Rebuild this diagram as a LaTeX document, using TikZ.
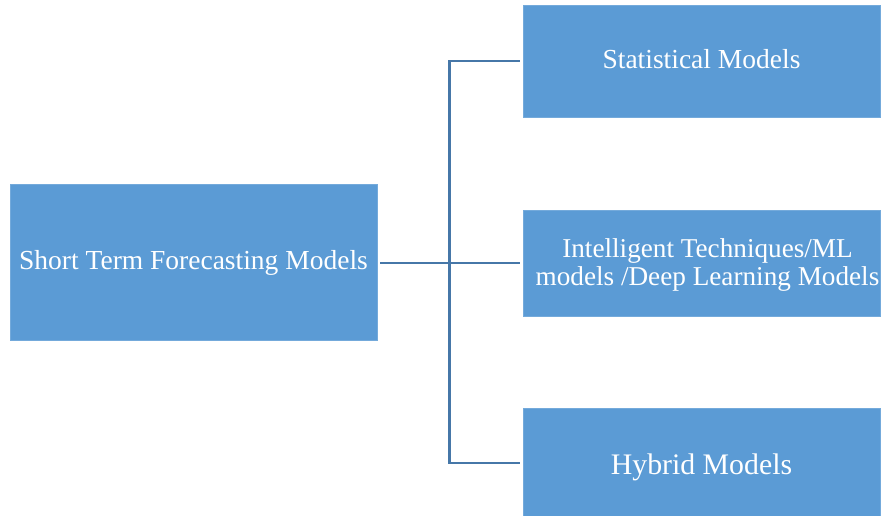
\documentclass[tikz,border=0pt]{standalone}
\usepackage{fontspec}
\setmainfont{Liberation Serif}
\definecolor{boxfill}{HTML}{5B9BD5}
\definecolor{linkcol}{HTML}{4677A8}
\begin{document}
\begin{tikzpicture}[x=1pt,y=-1pt,
  box/.style={rectangle, fill=boxfill, draw=boxfill!85!white, line width=0.8pt,
    text=white, align=center, inner sep=0pt,
    font=\fontsize{27.5}{28}\selectfont},
  conn/.style={draw=linkcol, line width=2.4pt, shorten <=3pt, shorten >=3pt}]
  \useasboundingbox (0,0) rectangle (882,515);
  % root and the three model families (text height/depth place the baselines)
  \node[box, minimum width=367, minimum height=156, text height=14.6pt, text depth=0pt]
    (root) at (193.5,262) {Short Term Forecasting Models};
  \node[box, minimum width=357, minimum height=112, text height=14.6pt, text depth=0pt]
    (stat) at (701.5,61) {Statistical Models};
  \node[box, minimum width=357, minimum height=106, text height=0pt, text depth=11.4pt,
    font=\fontsize{27.2}{28}\selectfont]
    (ml) at (701.5,263) {\hspace*{12pt}\begin{tabular}[t]{@{}c@{}}Intelligent Techniques/ML\\models /Deep Learning Models\end{tabular}};
  \node[box, minimum width=357, minimum height=110, text height=22.4pt, text depth=0pt,
    font=\fontsize{29.8}{30}\selectfont]
    (hyb) at (701.5,463) {Hybrid Models};
  % tree connectors
  \draw[conn] (root.east |- 0,263) -- (ml.west);
  \draw[conn] (stat.west) -- ++(-73,0) |- (hyb.west);
\end{tikzpicture}
\end{document}
